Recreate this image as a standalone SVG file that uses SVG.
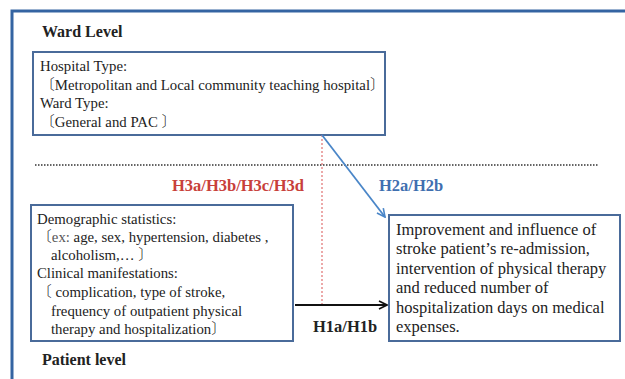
<svg xmlns="http://www.w3.org/2000/svg" width="625" height="379" viewBox="0 0 625 379">
<defs>
<style>
text{font-family:'Liberation Serif','Times New Roman','DejaVu Serif',serif;font-size:14.8px;fill:#222}
.b{font-weight:bold;font-size:16.5px}
.k{font-family:'Noto Sans CJK JP',sans-serif;font-weight:300}
.box{fill:#fff;stroke:#4a6b9a;stroke-width:2}
.res{font-size:16.5px}
</style>
<marker id="ab" markerWidth="10" markerHeight="10" refX="9" refY="5" orient="auto" markerUnits="userSpaceOnUse"><path d="M1,1 L9,5 L1,9" fill="none" stroke="#4a86c8" stroke-width="1.6"/></marker>
<marker id="ak" markerWidth="10" markerHeight="10" refX="9" refY="5" orient="auto" markerUnits="userSpaceOnUse"><path d="M1,1 L9,5 L1,9" fill="none" stroke="#111" stroke-width="1.6"/></marker>
</defs>
<rect width="625" height="379" fill="#fff"/>
<path d="M12,379 V11 H625" fill="none" stroke="#3464a2" stroke-width="3"/>
<text class="b" x="42" y="37" style="font-size:16px">Ward Level</text>
<line x1="35" y1="165" x2="598" y2="165" stroke="#333" stroke-width="1.5" stroke-dasharray="1.5,1.5"/>
<text class="b" x="42" y="365" style="font-size:16px">Patient level</text>
<g id="ward">
<rect class="box" x="33" y="52" width="352" height="83"/>
<text x="40" y="71">Hospital Type:</text>
<text x="40" y="90"><tspan class="k">〔</tspan>Metropolitan and Local community teaching hospital<tspan class="k">〕</tspan></text>
<text x="40" y="108">Ward Type:</text>
<text x="40" y="127"><tspan class="k">〔</tspan>General  and  PAC <tspan class="k">〕</tspan></text>
</g>
<g id="patient">
<rect class="box" x="31" y="205" width="262" height="136"/>
<text x="37" y="224">Demographic statistics:</text>
<text x="37" y="242"><tspan class="k">〔</tspan><tspan fill="#555">ex:</tspan> age, sex, hypertension, diabetes ,</text>
<text x="51" y="260">alcoholism,… <tspan class="k">〕</tspan></text>
<text x="37" y="278">Clinical manifestations:</text>
<text x="37" y="297"><tspan class="k">〔</tspan> complication, type of stroke,</text>
<text x="51" y="316">frequency of outpatient physical</text>
<text x="51" y="334">therapy and  hospitalization<tspan class="k">〕</tspan></text>
</g>
<g id="outcome">
<rect class="box" x="389" y="215" width="231" height="126"/>
<text class="res" x="396" y="235">Improvement and influence of</text>
<text class="res" x="396" y="254">stroke patient’s re-admission,</text>
<text class="res" x="396" y="274">intervention of physical therapy</text>
<text class="res" x="396" y="293">and reduced number of</text>
<text class="res" x="396" y="313">hospitalization days on medical</text>
<text class="res" x="396" y="332">expenses.</text>
</g>
<g id="connectors">
<line x1="322" y1="135" x2="322" y2="304" stroke="#e07070" stroke-width="1.2" stroke-dasharray="2,2"/>
<line x1="322" y1="135" x2="385" y2="217" stroke="#4a86c8" stroke-width="1.8" marker-end="url(#ab)"/>
<line x1="295" y1="305" x2="387" y2="305" stroke="#111" stroke-width="1.8" marker-end="url(#ak)"/>
<text class="b" x="172" y="191" style="fill:#c8403a">H3a/H3b/H3c/H3d</text>
<text class="b" x="379" y="191" style="fill:#3f6fb0">H2a/H2b</text>
<text class="b" x="313" y="332">H1a/H1b</text>
</g>
</svg>
